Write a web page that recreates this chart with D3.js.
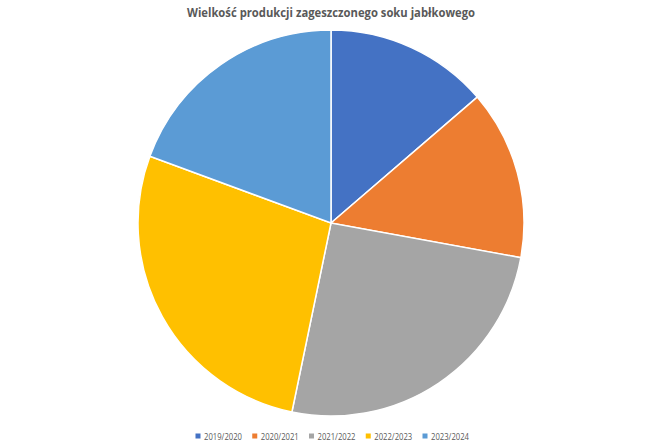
<!DOCTYPE html>
<html>
<head>
<meta charset="utf-8">
<script src="https://cdn.jsdelivr.net/npm/d3@7"></script>
<style>
  body { margin: 0; background: #fff; }
  text { font-family: "Open Sans", "Noto Sans", sans-serif; fill: #595959; }
</style>
</head>
<body>
<div id="chart"></div>
<script>
const seasons = ["2019/2020", "2020/2021", "2021/2022", "2022/2023", "2023/2024"];
const production = [13.7, 14.2, 25.4, 27.4, 19.4];
const colors = ["#4472C4", "#ED7D31", "#A5A5A5", "#FFC000", "#5B9BD5"];

const width = 661, height = 445;
const cx = 331, cy = 223, radius = 193;

const svg = d3.select("#chart")
  .append("svg")
  .attr("width", width)
  .attr("height", height);

svg.append("text")
  .attr("x", cx)
  .attr("y", 17)
  .attr("text-anchor", "middle")
  .attr("textLength", 288)
  .attr("lengthAdjust", "spacingAndGlyphs")
  .style("font-size", "12.8px")
  .style("font-weight", "bold")
  .text("Wielkość produkcji zageszczonego soku jabłkowego");

const pie = d3.pie().sort(null).value(d => d);
const arc = d3.arc().innerRadius(0).outerRadius(radius);

svg.append("g")
  .attr("transform", `translate(${cx},${cy})`)
  .selectAll("path")
  .data(pie(production))
  .enter()
  .append("path")
  .attr("d", arc)
  .attr("fill", (d, i) => colors[i])
  .style("stroke", "#fff")
  .style("stroke-width", 1.5);

// legend
const legendX = d3.scalePoint().domain(seasons).range([198, 425]);
const legend = svg.append("g")
  .selectAll("g")
  .data(seasons)
  .enter()
  .append("g")
  .attr("transform", d => `translate(${legendX(d)},436)`);

legend.append("rect")
  .attr("x", -2.5)
  .attr("y", -2.5)
  .attr("width", 5)
  .attr("height", 5)
  .attr("fill", (d, i) => colors[i]);

legend.append("text")
  .attr("x", 6)
  .attr("y", 3.5)
  .attr("textLength", 38)
  .attr("lengthAdjust", "spacingAndGlyphs")
  .style("font-size", "9.5px")
  .text(d => d);
</script>
</body>
</html>
